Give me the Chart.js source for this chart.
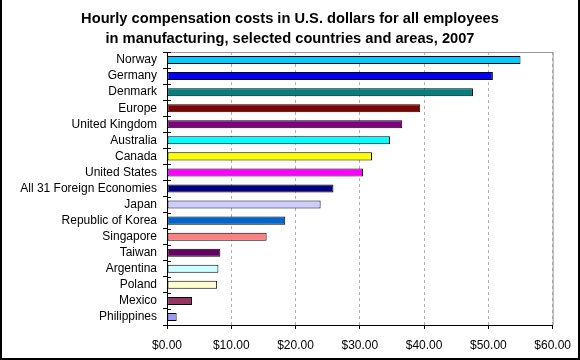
<!DOCTYPE html>
<html>
<head>
<meta charset="utf-8">
<script src="https://cdn.jsdelivr.net/npm/chart.js@4"></script>
<style>
  body { margin: 0; background: #fff; }
  #wrap { width: 580px; height: 360px; position: relative; }
</style>
</head>
<body>
<div id="wrap"><canvas id="bar" width="580" height="360"></canvas></div>
<script>
var countries = ['Norway', 'Germany', 'Denmark', 'Europe', 'United Kingdom', 'Australia', 'Canada',
    'United States', 'All 31 Foreign Economies', 'Japan', 'Republic of Korea', 'Singapore',
    'Taiwan', 'Argentina', 'Poland', 'Mexico', 'Philippines'];
var costs = [55.0, 50.7, 47.6, 39.4, 36.6, 34.7, 31.9, 30.5, 25.9, 23.9, 18.4, 15.5, 8.3, 8.0, 7.8, 3.9, 1.5];
var barColors = ['#00CCFF', '#0000FF', '#008080', '#800000', '#800080', '#00FFFF', '#FFFF00',
    '#FF00FF', '#000080', '#CCCCFF', '#0066CC', '#FF8080', '#660066', '#CCFFFF', '#FFFFCC',
    '#993366', '#9999FF'];
var titleLines = ['Hourly compensation costs in U.S. dollars for all employees',
    'in manufacturing, selected countries and areas, 2007'];

// title, frame, plot area top/right edge and inward y ticks
var extras = {
    id: 'extras',
    beforeDatasetsDraw: function (chart) {
        var a = chart.chartArea, c = chart.ctx;
        c.save();
        c.strokeStyle = '#999999';
        c.lineWidth = 1;
        c.beginPath();
        c.moveTo(a.left, a.top + 0.5);
        c.lineTo(a.right + 0.5, a.top + 0.5);
        c.lineTo(a.right + 0.5, a.bottom);
        c.stroke();
        c.restore();
    },
    afterDraw: function (chart) {
        var a = chart.chartArea, c = chart.ctx;
        var n = countries.length, step = (a.bottom - a.top) / n;
        c.save();
        c.fillStyle = '#000';
        c.font = 'bold 14.67px Arial, "Liberation Sans"';
        c.textAlign = 'center';
        c.textBaseline = 'alphabetic';
        c.fillText(titleLines[0], 290, 23);
        c.fillText(titleLines[1], 290, 42.5);

        c.strokeStyle = '#000';
        c.lineWidth = 1;
        c.beginPath();
        for (var i = 0; i <= n; i++) {
            var y = Math.round(a.top + i * step) + 0.5;
            c.moveTo(a.left, y);
            c.lineTo(a.left + 4, y);
        }
        c.stroke();
        c.lineWidth = 2;
        c.beginPath();
        c.moveTo(1, 0);
        c.lineTo(1, 359);
        c.lineTo(579, 359);
        c.lineTo(579, 0);
        c.stroke();
        c.restore();
    }
};

document.addEventListener('DOMContentLoaded', function () {
    var ctx = document.getElementById('bar').getContext('2d');
    var myChart = new Chart(ctx, {
        type: 'bar',
        data: {
            labels: countries,
            datasets: [{
                label: 'Hourly compensation',
                data: costs,
                backgroundColor: barColors,
                borderColor: '#000',
                borderWidth: 1,
                borderSkipped: false,
                barPercentage: 0.5,
                categoryPercentage: 1.0
            }]
        },
        options: {
            indexAxis: 'y',
            responsive: false,
            animation: false,
            layout: { padding: { left: 0, right: 25, top: 52, bottom: 0 } },
            plugins: {
                legend: { display: false },
                tooltip: { enabled: false },
                title: { display: false }
            },
            scales: {
                x: {
                    min: 0,
                    max: 60,
                    afterFit: function (s) { s.height = 35; },
                    ticks: {
                        stepSize: 10,
                        color: '#000',
                        padding: 9,
                        maxRotation: 0,
                        font: { family: 'Arial, "Liberation Sans"', size: 12 },
                        callback: function (v) { return '$' + Number(v).toFixed(2); }
                    },
                    grid: { color: '#b0b0b0', tickColor: '#000', tickLength: 4, lineWidth: 1 },
                    border: { color: '#000', width: 1, dash: [3, 3] }
                },
                y: {
                    afterFit: function (s) { s.width = 167; },
                    ticks: {
                        color: '#000',
                        padding: 6,
                        autoSkip: false,
                        font: { family: 'Arial, "Liberation Sans"', size: 12 }
                    },
                    grid: { offset: true, drawOnChartArea: false, color: '#000', tickLength: 4 },
                    border: { color: '#000', width: 1 }
                }
            }
        },
        plugins: [extras]
    });
});
</script>
</body>
</html>
